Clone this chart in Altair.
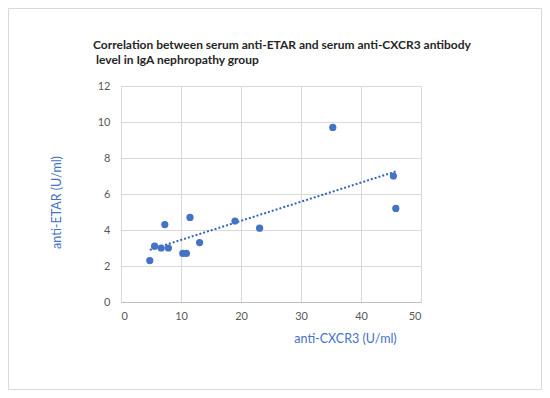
import altair as alt
import pandas as pd

anti_cxcr3 = [4.8, 5.6, 6.7, 7.3, 7.9, 10.3, 10.9, 11.5, 13.1, 19.0, 23.1, 35.3, 45.4, 45.8]
anti_etar = [2.3, 3.1, 3.0, 4.3, 3.0, 2.7, 2.7, 4.7, 3.3, 4.5, 4.1, 9.7, 7.0, 5.2]
x_ticks = [0, 10, 20, 30, 40, 50]
y_ticks = [0, 2, 4, 6, 8, 10, 12]
title_line1 = "Correlation between serum anti-ETAR and serum anti-CXCR3 antibody"
title_line2 = "level in IgA nephropathy group"

df = pd.DataFrame({"x": anti_cxcr3, "y": anti_etar})

FONT = "Lato"
BLUE = "#4472c4"

xscale = alt.Scale(domain=[0, 50], nice=False)
yscale = alt.Scale(domain=[0, 12], nice=False)

xaxis = alt.Axis(
    title="anti-CXCR3 (U/ml)", values=x_ticks, tickCount=6,
    titleX=224, titleY=30, titleBaseline="top", labelOverlap=False,
)
yaxis = alt.Axis(
    title="anti-ETAR (U/ml)", values=y_ticks, tickCount=7,
    titleX=-58, titleY=116, labelOverlap=False,
)

base = alt.Chart(df)

points = base.mark_circle(size=52, color=BLUE, opacity=1).encode(
    x=alt.X("x:Q", scale=xscale, axis=xaxis),
    y=alt.Y("y:Q", scale=yscale, axis=yaxis),
)

trend = base.transform_regression("x", "y").mark_line(
    color="#3563b5", strokeWidth=2, strokeDash=[2, 2]
).encode(
    x=alt.X("x:Q", scale=xscale, axis=xaxis),
    y=alt.Y("y:Q", scale=yscale, axis=yaxis),
)

border = alt.Chart(pd.DataFrame({"a": [0]})).mark_rect(
    fill=None, stroke="#d9d9d9", strokeWidth=1, clip=False
).encode(
    x=alt.value(-112.5), x2=alt.value(420.5),
    y=alt.value(-77.5), y2=alt.value(303.5),
)

title_style = dict(align="left", baseline="alphabetic", font=FONT, fontSize=12,
                   fontWeight="bold", color="#262626", clip=False)
t1 = alt.Chart(pd.DataFrame({"t": [title_line1]})).mark_text(**title_style).encode(
    text="t", x=alt.value(-28), y=alt.value(-37),
)
t2 = alt.Chart(pd.DataFrame({"t": [title_line2]})).mark_text(**title_style).encode(
    text="t", x=alt.value(-25), y=alt.value(-22),
)

chart = alt.layer(border, trend, points, t1, t2).properties(
    width=300,
    height=216,
    autosize=alt.AutoSizeParams(type="none"),
    padding={"left": 113, "top": 78, "right": 121, "bottom": 88},
).configure_view(stroke=None).configure_axis(
    labelFont=FONT, labelFontSize=11, labelColor="#595959",
    titleFont=FONT, titleFontSize=12.5, titleColor=BLUE, titleFontWeight="normal",
    gridColor="#d9d9d9", gridWidth=1, ticks=False, domain=False,
    labelPadding=9,
).configure_axisX(domain=True, domainColor="#bfbfbf", labelPadding=8).configure_axisY(labelPadding=11)

chart.save("out.html", embed_options={"renderer": "svg", "actions": False})
